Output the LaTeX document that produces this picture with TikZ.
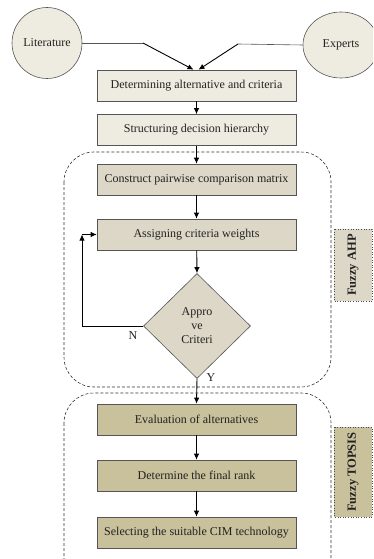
\documentclass[tikz,border=0pt]{standalone}
\usepackage{fontspec}
\setmainfont{Liberation Serif}
\usetikzlibrary{shapes.geometric,arrows.meta}
\definecolor{lightbg}{HTML}{EEEBE0}
\definecolor{midbg}{HTML}{DCD7C6}
\definecolor{khaki}{HTML}{C9C09C}
\definecolor{edge}{HTML}{555555}
\definecolor{txt}{HTML}{222222}
\begin{document}
\begin{tikzpicture}[x=1pt,y=-1pt,
  font=\fontsize{12}{14}\selectfont, text=txt,
  stepbox/.style={draw=edge, line width=0.6pt, minimum width=199pt, minimum height=31pt, inner sep=0pt},
  srcell/.style={ellipse, draw=edge, line width=0.6pt, fill=lightbg, inner sep=0pt},
  arr/.style={draw=black, line width=0.9pt, -{Latex[length=6pt,width=5.5pt]}},
  plain/.style={draw=edge, line width=0.6pt},
  region/.style={draw=black!80, line width=0.6pt, dash pattern=on 3pt off 2pt, rounded corners=30pt},
  sidebox/.style={draw=black!70, line width=0.6pt, dotted, rotate=90, minimum height=38pt, inner sep=0pt, font=\fontsize{12.5}{14}\selectfont\bfseries}]
\useasboundingbox (0,0) rectangle (373,559);
\clip (0,0) rectangle (373,559);

% regions
\draw[region] (64,152) rectangle (331,387);
\draw[region] (64,393) rectangle (331,600);

% sources
\node[srcell, minimum width=70pt, minimum height=71pt] (lit) at (47,43) {Literature};
\node[srcell, minimum width=76pt, minimum height=66pt] (exp) at (341,45) {Experts};

% steps
\node[stepbox, fill=lightbg] (b1) at (196.5,85.5) {Determining alternative and criteria};
\node[stepbox, fill=lightbg] (b2) at (196.5,130) {Structuring decision hierarchy};
\node[stepbox, fill=midbg] (b3) at (196.5,179.5) {Construct pairwise comparison matrix};
\node[stepbox, fill=midbg] (b4) at (196.5,234.5) {Assigning criteria weights};
\node[diamond, draw=edge, line width=0.6pt, fill=midbg, minimum width=107pt, minimum height=105pt, inner sep=0pt, align=center, font=\fontsize{12}{14}\selectfont] (dia) at (197,326) {Appro\\ve\\Criteri};
\node[stepbox, fill=khaki] (b5) at (196.5,419.5) {Evaluation of alternatives};
\node[stepbox, fill=khaki] (b6) at (196.5,475.5) {Determine the final rank};
\node[stepbox, fill=khaki] (b7) at (196.5,532.5) {Selecting the suitable CIM technology};

% side labels
\node[sidebox, fill=midbg, minimum width=72pt] (ahp) at (353,265) {Fuzzy AHP};
\node[sidebox, fill=khaki, minimum width=90pt] (top) at (353,472) {Fuzzy TOPSIS};

% connectors
\coordinate (l1) at (143,43);
\coordinate (e1) at (238,44);
\draw[plain] (lit.east) -- (l1);
\draw[arr] (l1) -- ([xshift=-3pt]b1.north);
\draw[plain] (exp.west) -- (e1);
\draw[arr] (e1) -- ([xshift=2pt]b1.north);
\draw[arr] (b1) -- (b2);
\draw[arr] (b2) -- (b3);
\draw[arr] (b3) -- (b4);
\draw[arr] (b4) -- (dia.north);
\coordinate (lp) at (82,234.5);
\draw[arr] (dia.west) -| (lp);
\draw[arr] (lp) -- (b4.west);
\draw[arr] (dia.south) -- (b5.north);
\draw[arr] (b5) -- (b6);
\draw[arr] (b6) -- (b7);

% labels
\node (n) at (133,336) {N};
\node (y) at (211,378) {Y};
\end{tikzpicture}
\end{document}
